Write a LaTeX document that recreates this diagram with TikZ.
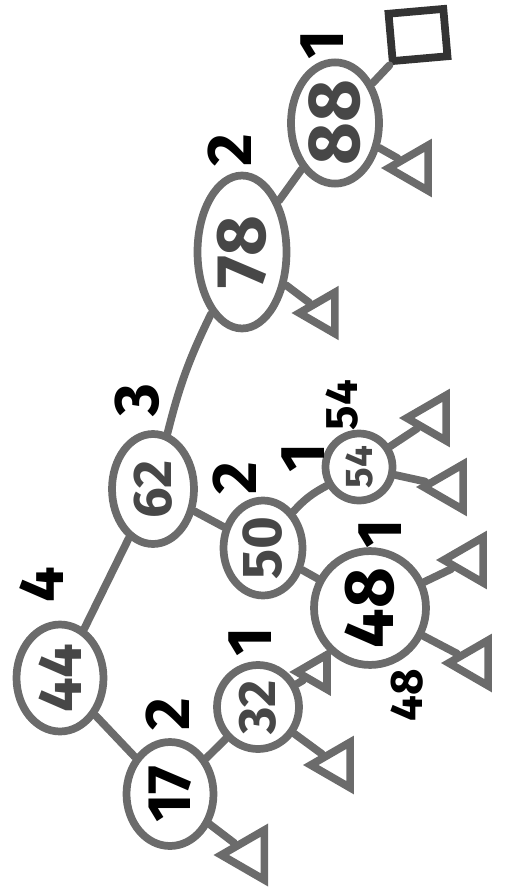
\documentclass[tikz,border=0pt]{standalone}
\usepackage{fontspec}
\setmainfont{Fira Sans}
\usepackage{tikz}
\usetikzlibrary{shapes.geometric}
\definecolor{marker}{gray}{0.42}
\definecolor{ink}{gray}{0.28}
\newcommand{\hw}[1]{\fontsize{#1}{#1}\selectfont\bfseries}

\begin{document}
\begin{tikzpicture}[x=0.02cm, y=-0.02cm, line width=4.4pt,
  key/.style={draw=marker, ellipse, inner sep=0pt, rotate=90, text=ink},
  ext/.style={draw=marker, regular polygon, regular polygon sides=3, inner sep=0pt, minimum size=1.05cm, rotate=90},
  link/.style={draw=marker, line cap=round},
  ht/.style={font=\hw{36}, rotate=90, inner sep=0pt}]
  \useasboundingbox (0,0) rectangle (506,888);
  \node[key, minimum width=2.14cm, minimum height=1.74cm, font=\hw{35}] (n44) at (60,678) {44};
  \node[key, minimum width=2.08cm, minimum height=1.74cm, font=\hw{35}, text=black] (n17) at (170,794) {17};
  \node[key, minimum width=1.68cm, minimum height=1.64cm, font=\hw{30}] (n32) at (258,707) {32};
  \node[key, minimum width=2.2cm, minimum height=1.64cm, font=\hw{31}] (n62) at (153,489) {62};
  \node[key, minimum width=1.9cm, minimum height=1.58cm, font=\hw{32}] (n50) at (263,548) {50};
  \node[key, minimum width=2.24cm, minimum height=2.24cm, font=\hw{40}, text=black] (n48) at (370,608) {48};
  \node[key, minimum width=1.34cm, minimum height=1.34cm, font=\hw{22}] (n54) at (359,467) {54};
  \node[key, minimum width=3.06cm, minimum height=1.78cm, font=\hw{40}] (n78) at (242,252) {78};
  \node[key, minimum width=2.3cm, minimum height=1.76cm, font=\hw{42}] (n88) at (335,123) {88};

  \node[ht] (h44) at (42,585) {4};
  \node[ht] (h17) at (168,714) {2};
  \node[ht] (h32) at (250,642) {1};
  \node[ht] (h62) at (137,400) {3};
  \node[ht] (h50) at (235,478) {2};
  \node[ht] (h48) at (380,534) {1};
  \node[ht] (h54) at (303,458) {1};
  \node[ht] (h78) at (230,150) {2};
  \node[ht] (h88) at (322,45) {1};
  \node[ht, font=\hw{26}] (a54) at (342,405) {54};
  \node[ht, font=\hw{26}] (a48) at (407,695) {48};

  \node[draw=black!80, rectangle, inner sep=0pt, minimum width=1.1cm, minimum height=0.95cm, rotate=5] (l88a) at (418,35) {};
  \node[ext] (l88b) at (415,168) {};
  \node[ext, minimum size=0.95cm] (l78) at (323,313) {};
  \node[ext] (l54a) at (433,418) {};
  \node[ext] (l54b) at (450,487) {};
  \node[ext] (l48a) at (470,560) {};
  \node[ext] (l48b) at (475,663) {};
  \node[ext, minimum size=0.8cm] (l32a) at (317,672) {};
  \node[ext] (l32b) at (337,765) {};
  \node[ext, minimum size=1.15cm] (l17) at (250,855) {};

  \draw[link] (n44) -- (n62);
  \draw[link] (n44) -- (n17);
  \draw[link] (n17) -- (n32);
  \draw[link] (n17) -- (l17);
  \draw[link] (n32) -- (l32a);
  \draw[link] (n32) -- (l32b);
  \draw[link] (n62) to[bend left=6] (n78);
  \draw[link] (n62) -- (n50);
  \draw[link] (n50) -- (n48);
  \draw[link] (n50) to[bend left=10] (n54);
  \draw[link] (n48) -- (l48a);
  \draw[link] (n48) -- (l48b);
  \draw[link] (n54) -- (l54a);
  \draw[link] (n54) -- (l54b);
  \draw[link] (n78) -- (l78);
  \draw[link] (n78) -- (n88);
  \draw[link] (n88) -- (l88a);
  \draw[link] (n88) -- (l88b);
\end{tikzpicture}
\end{document}
